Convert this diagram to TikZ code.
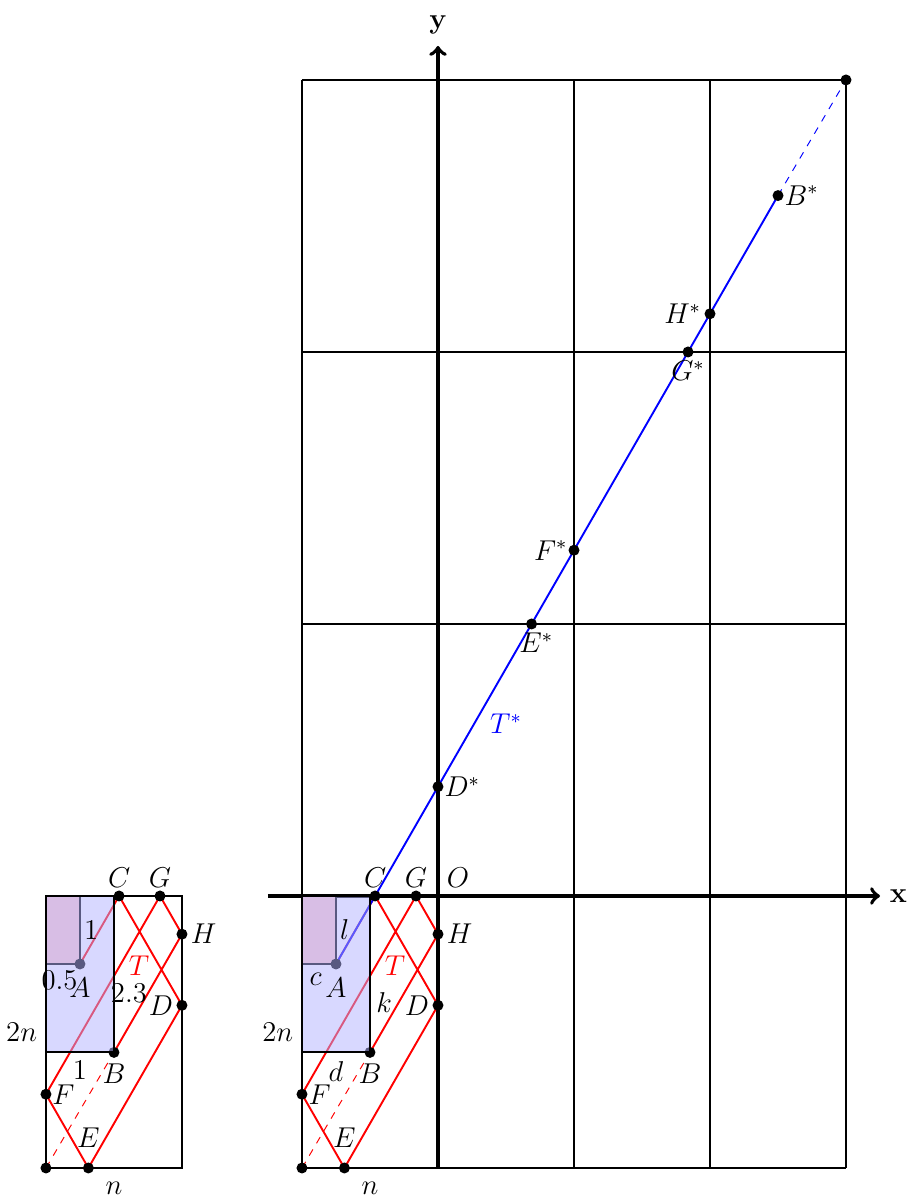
\documentclass[tikz,border=0pt]{standalone}
\begin{document}
\begin{tikzpicture}[line width=0.8pt, font=\large]
  \useasboundingbox (-6.441,-4.456) rectangle (6.941,13.176);
  % unfolded tables
  \draw[xstep=2, ystep=4] (-2,-4) grid (6,12);
  \draw[->, line width=1.6pt] (-2.5,0) -- (6.5,0) node[right] {$\mathbf{x}$};
  \draw[->, line width=1.6pt] (0,-4) -- (0,12.5) node[above=1pt] {$\mathbf{y}$};
  \node[above right] at (0,0) {$O$};
  % points of the path
  \coordinate (A) at (-1.5,-1);
  \coordinate (B) at (-1,-2.3);
  \coordinate (C) at (-0.9248,0);
  \coordinate (D) at (0,-1.6077);
  \coordinate (E) at (-1.3761,-4);
  \coordinate (F) at (-2,-2.9154);
  \coordinate (G) at (-0.3230,0);
  \coordinate (H) at (0,-0.5615);
  \coordinate (LL) at (-2,-4);
  \coordinate (Ds) at (0,1.6077);
  \coordinate (Es) at (1.3761,4);
  \coordinate (Fs) at (2,5.0846);
  \coordinate (Gs) at (3.6770,8);
  \coordinate (Hs) at (4,8.5615);
  \coordinate (Bs) at (5,10.3);
  \coordinate (UR) at (6,12);
  \draw[fill=red!20] (-2,0) rectangle (A);
  \draw[red] (A) -- (C) -- (D) -- (E) -- (F) -- (G) -- (H) -- (B);
  \draw[red, dashed, line width=0.4pt] (LL) -- (B);
  \draw[blue] (A) -- (Bs);
  \draw[blue, dashed, line width=0.4pt] (Bs) -- (UR);
  \foreach \p in {A,B,C,D,E,F,G,H,LL,Ds,Es,Fs,Gs,Hs,Bs,UR}
    \fill (\p) circle (2.3pt);
  \draw[fill=blue!30, fill opacity=0.5] (-2,0) rectangle (B);
  % labels
  \node[right=-2pt] at (-1.5,-0.5) {$l$};
  \node[below] at (-1.8,-1) {$c$};
  \node at (-0.79,-1.56) {$k$};
  \node[below] at (-1.5,-2.3) {$d$};
  \node[left] at (-2,-2) {$2n$};
  \node[below=2pt] at (-1,-4) {$n$};
  \node[red] at (-0.63,-1.03) {$T$};
  \node[below=2pt] at (A) {$A$};
  \node[below=1pt] at (B) {$B$};
  \node[above] at (C) {$C$};
  \node[left] at (D) {$D$};
  \node[above=5pt] at (E) {$E$};
  \node[right=-1pt] at (F) {$F$};
  \node[above] at (G) {$G$};
  \node[right] at (H) {$H$};
  \node[right=-1pt] at (Ds) {$D^*$};
  \node[below, xshift=2pt] at (Es) {$E^*$};
  \node[left=-1pt] at (Fs) {$F^*$};
  \node[below] at (Gs) {$G^*$};
  \node[left] at (Hs) {$H^*$};
  \node[right=-1pt] at (Bs) {$B^*$};
  \node[blue] at (1.0,2.53) {$T^*$};
  % the table alone
  \begin{scope}[xshift=-3.765cm]
    \coordinate (A) at (-1.5,-1);
    \coordinate (B) at (-1,-2.3);
    \coordinate (C) at (-0.9248,0);
    \coordinate (D) at (0,-1.6077);
    \coordinate (E) at (-1.3761,-4);
    \coordinate (F) at (-2,-2.9154);
    \coordinate (G) at (-0.3230,0);
    \coordinate (H) at (0,-0.5615);
    \coordinate (LL) at (-2,-4);
    \draw (LL) rectangle (0,0);
    \draw[fill=red!20] (-2,0) rectangle (A);
    \draw[red] (A) -- (C) -- (D) -- (E) -- (F) -- (G) -- (H) -- (B);
    \draw[red, dashed, line width=0.4pt] (LL) -- (B);
    \foreach \p in {A,B,C,D,E,F,G,H,LL}
      \fill (\p) circle (2.3pt);
    \draw[fill=blue!30, fill opacity=0.5] (-2,0) rectangle (B);
    \node[right=-2pt] at (-1.5,-0.5) {$1$};
    \node[below=-1pt] at (-1.8,-1) {$0.5$};
    \node at (-0.78,-1.43) {$2.3$};
    \node[below] at (-1.5,-2.3) {$1$};
    \node[left] at (-2,-2) {$2n$};
    \node[below=2pt] at (-1,-4) {$n$};
    \node[red] at (-0.63,-1.03) {$T$};
    \node[below=2pt] at (A) {$A$};
    \node[below=1pt] at (B) {$B$};
    \node[above] at (C) {$C$};
    \node[left] at (D) {$D$};
    \node[above=5pt] at (E) {$E$};
    \node[right=-1pt] at (F) {$F$};
    \node[above] at (G) {$G$};
    \node[right] at (H) {$H$};
  \end{scope}
\end{tikzpicture}
\end{document}
